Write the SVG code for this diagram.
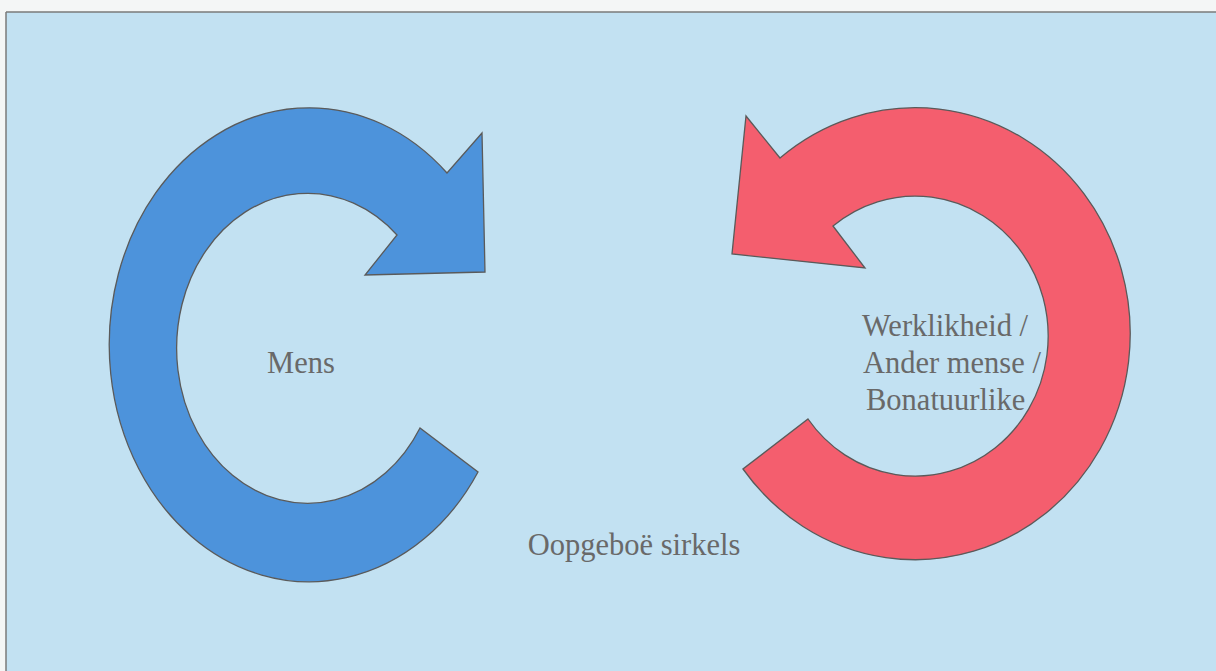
<svg xmlns="http://www.w3.org/2000/svg" width="1216" height="671" viewBox="0 0 1216 671">
<style>
.lbl{font-family:"Liberation Serif","Times New Roman",serif;font-size:30.5px;fill:#696969}
.arrow{stroke:#5a5a5a;stroke-width:1.3;stroke-linejoin:miter}
</style>
<rect x="0" y="0" width="1216" height="671" fill="#f4f6f6"/>
<rect x="6" y="12" width="1210" height="659" fill="#c2e1f2"/>
<g id="frame" fill="none" stroke="#7a7a7a" stroke-width="1.5">
<line x1="6" y1="12" x2="1216" y2="12"/>
<line x1="6" y1="12" x2="6" y2="671"/>
</g>
<g id="connectors">
<path id="blue-arrow" class="arrow" fill="#4d93db" d="M 478,472 A 200 237 0 1 1 447,173 L 482,133 L 485,272 L 365,275 L 397,235 A 131 155 0 1 0 420,428 Z"/>
<path id="red-arrow" class="arrow" fill="#f45e6e" d="M 743,469 A 215 226 0 1 0 780,158 L 746,116 L 732,254 L 865,268 L 833,226 A 133 140 0 1 1 808,419 Z"/>
</g>
<g id="node-mens">
<text class="lbl" x="301" y="373" text-anchor="middle">Mens</text>
</g>
<g id="node-werklikheid">
<text class="lbl" x="862" y="336">Werklikheid /</text>
<text class="lbl" x="863" y="373">Ander mense /</text>
<text class="lbl" x="866" y="410">Bonatuurlike</text>
</g>
<g id="node-caption">
<text class="lbl" x="634" y="555" text-anchor="middle">Oopgeboë sirkels</text>
</g>
</svg>
